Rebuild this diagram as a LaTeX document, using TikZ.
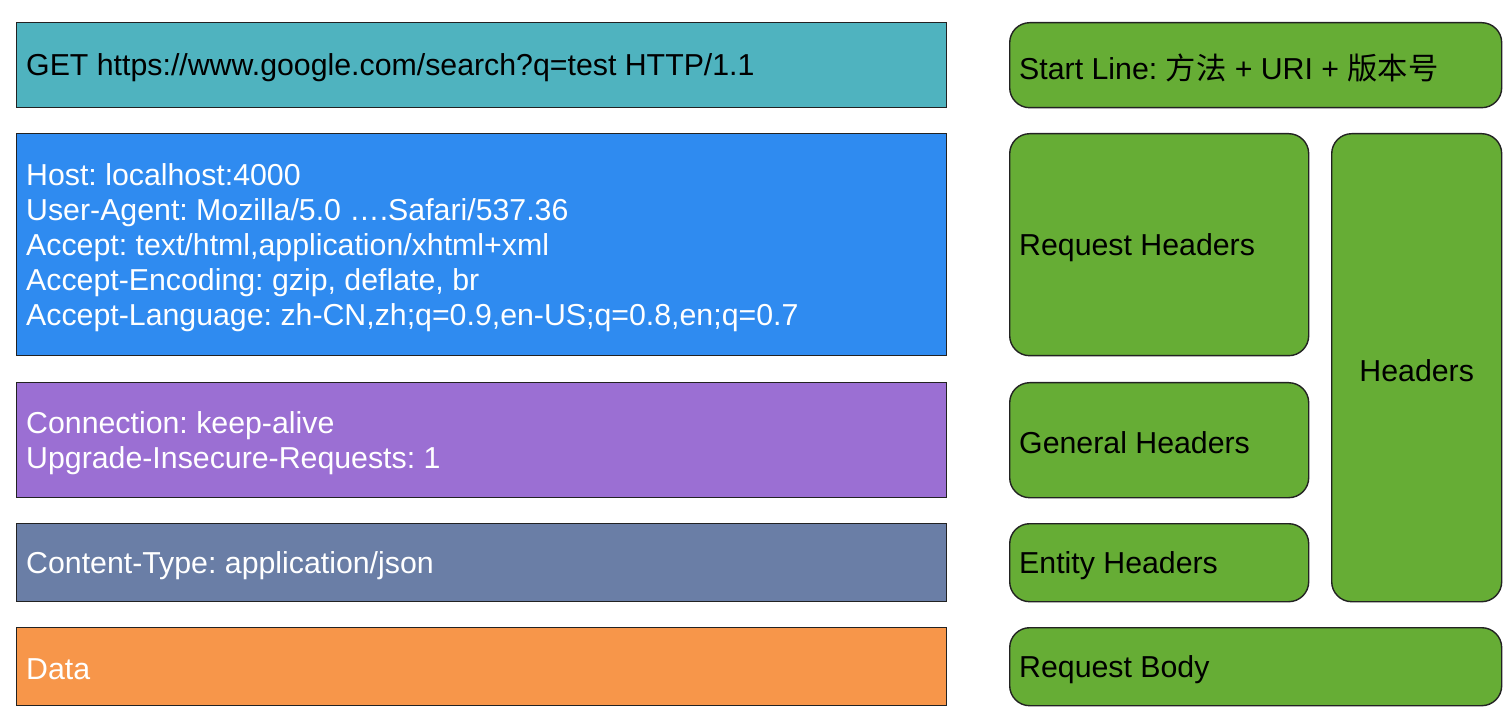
\documentclass[tikz,border=0pt]{standalone}
\usepackage{fontspec}
\setmainfont{Liberation Sans}
\newfontfamily\cjk{Noto Sans CJK SC}
\frenchspacing
\definecolor{cGet}{HTML}{4FB3BF}
\definecolor{cReq}{HTML}{2F8BF0}
\definecolor{cGen}{HTML}{9B6FD3}
\definecolor{cEnt}{HTML}{6A7EA6}
\definecolor{cData}{HTML}{F7964A}
\definecolor{cGreen}{HTML}{66AD35}
\definecolor{cLine}{HTML}{222222}
\begin{document}
\begin{tikzpicture}[x=1pt,y=-1pt,
  base/.style={draw=cLine, line width=1.4pt, anchor=north west, inner sep=0pt},
  lbox/.style={base, minimum width=930pt},
  gbox/.style={base, fill=cGreen, rounded corners=20pt},
  gsmall/.style={gbox, minimum width=299pt},
  gwide/.style={gbox, minimum width=492pt},
  txt/.style={anchor=west, inner sep=0pt, align=left, font=\fontsize{30.3}{35}\selectfont},
  wtxt/.style={txt, text=white}]
\useasboundingbox (0,0) rectangle (1505,708);
% left column
\node[lbox, fill=cGet, minimum height=85pt] (get) at (16,22) {};
\node[lbox, fill=cReq, minimum height=222pt] (req) at (16,133) {};
\node[lbox, fill=cGen, minimum height=115pt] (gen) at (16,382) {};
\node[lbox, fill=cEnt, minimum height=78pt] (ent) at (16,523) {};
\node[lbox, fill=cData, minimum height=78pt] (data) at (16,627) {};
\node[txt] (getT) at ([xshift=10pt,yshift=-2.5pt]get.west)
  {GET https://www.google.com/search?q=test HTTP/1.1};
\node[wtxt] (reqT) at ([xshift=10pt,yshift=-2.5pt]req.west)
  {Host: localhost:4000\\
   User-Agent: Mozilla/5.0 \dots.Safari/537.36\\
   Accept: text/html,application/xhtml+xml\\
   Accept-Encoding: gzip, deflate, br\\
   Accept-Language: zh-CN,zh;q=0.9,en-US;q=0.8,en;q=0.7};
\node[wtxt] (genT) at ([xshift=10pt,yshift=-2.5pt]gen.west)
  {Connection: keep-alive\\
   Upgrade-Insecure-Requests: 1};
\node[wtxt] (entT) at ([xshift=10pt,yshift=-2.5pt]ent.west)
  {Content-Type: application/json};
\node[wtxt] (dataT) at ([xshift=10pt,yshift=-2.5pt]data.west) {Data};
% right column
\node[gwide, minimum height=85pt] (start) at (1009,22) {};
\node[gsmall, minimum height=222pt] (reqh) at (1009,133) {};
\node[gsmall, minimum height=115pt] (genh) at (1009,382) {};
\node[gsmall, minimum height=78pt] (enth) at (1009,523) {};
\node[gbox, minimum width=170pt, minimum height=468pt] (hdrs) at (1331,133) {};
\node[gwide, minimum height=78pt] (body) at (1009,627) {};
\node[txt] (startT) at ([xshift=10pt,yshift=-2.5pt]start.west)
  {Start Line: {\cjk 方法} + URI + {\cjk 版本号}};
\node[txt] (reqhT) at ([xshift=10pt,yshift=-2.5pt]reqh.west) {Request Headers};
\node[txt] (genhT) at ([xshift=10pt,yshift=-2.5pt]genh.west) {General Headers};
\node[txt] (enthT) at ([xshift=10pt,yshift=-2.5pt]enth.west) {Entity Headers};
\node[txt, anchor=center] (hdrsT) at ([yshift=-2.5pt]hdrs.center) {Headers};
\node[txt] (bodyT) at ([xshift=10pt,yshift=-2.5pt]body.west) {Request Body};
\end{tikzpicture}
\end{document}
